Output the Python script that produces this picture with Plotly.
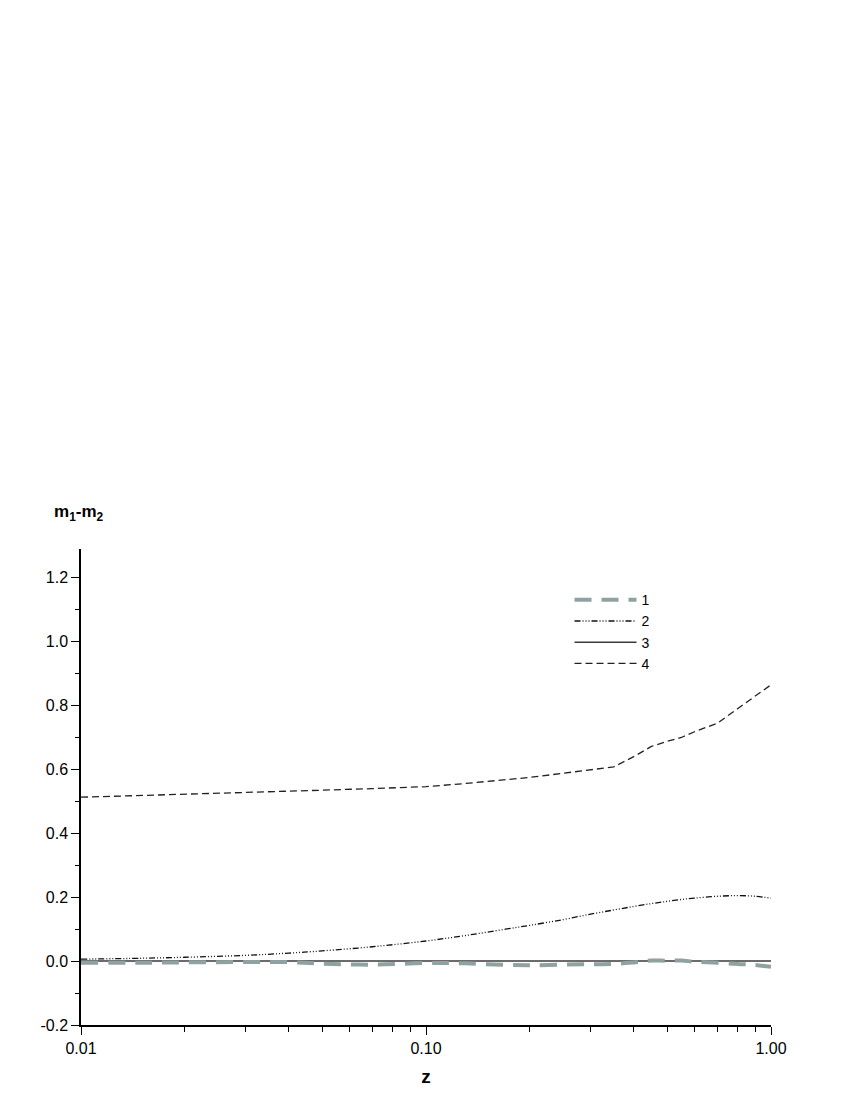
import plotly.graph_objects as go

# redshift grid (log axis)
z = [0.01, 0.015, 0.02, 0.03, 0.04, 0.05, 0.07, 0.1, 0.13, 0.17, 0.2, 0.25,
     0.3, 0.35, 0.4, 0.45, 0.5, 0.55, 0.6, 0.7, 0.8, 0.9, 1.0]

# curve 1: grey thick dashed, close to zero
m1 = [-0.005, -0.005, -0.004, -0.003, -0.003, -0.008, -0.011, -0.006, -0.007,
      -0.012, -0.013, -0.011, -0.010, -0.009, -0.004, 0.002, 0.001, 0.002,
      -0.002, -0.005, -0.009, -0.012, -0.018]

# curve 2: dash-dot-dot
m2 = [0.006, 0.009, 0.012, 0.018, 0.025, 0.032, 0.045, 0.063, 0.080, 0.100,
      0.112, 0.130, 0.147, 0.160, 0.171, 0.180, 0.187, 0.193, 0.197, 0.203,
      0.205, 0.203, 0.197]

# curve 3: solid reference line
m3 = [0.0] * len(z)

# curve 4: dashed
m4 = [0.513, 0.518, 0.522, 0.528, 0.532, 0.535, 0.540, 0.546, 0.556, 0.568,
      0.575, 0.588, 0.598, 0.608, 0.640, 0.672, 0.688, 0.700, 0.718, 0.745,
      0.790, 0.830, 0.865]

names = ['1', '2', '3', '4']

fig = go.Figure()
fig.add_trace(go.Scatter(x=z, y=m3, name=names[2], mode='lines',
                         line=dict(color='#3a3a3a', width=1.5, dash='solid'),
                         showlegend=False))
fig.add_trace(go.Scatter(x=z, y=m1, name=names[0], mode='lines',
                         line=dict(color='#8fa1a1', width=4, dash='17px,10px'),
                         line_shape='spline'))
fig.add_trace(go.Scatter(x=z, y=m2, name=names[1], mode='lines',
                         line=dict(color='#111111', width=1.3,
                                   dash='6px,2px,1px,2px,1px,2px,1px,2px'),
                         line_shape='spline'))
# legend entry for 3 in its proper order
fig.add_trace(go.Scatter(x=[None], y=[None], name=names[2], mode='lines',
                         line=dict(color='#3a3a3a', width=1.5)))
fig.add_trace(go.Scatter(x=z, y=m4, name=names[3], mode='lines',
                         line=dict(color='#222222', width=1.3, dash='7px,4px')))

# page body adds an 8px margin, so the figure is drawn 8px smaller
fig.update_layout(
    width=855, height=1109,
    margin=dict(l=73, r=92, t=541, b=92),
    paper_bgcolor='white', plot_bgcolor='white',
    font=dict(family='Liberation Sans, Arial, sans-serif', size=16, color='black'),
    legend=dict(x=0.708, y=0.926, xanchor='left', yanchor='top',
                bgcolor='rgba(0,0,0,0)', font=dict(size=14),
                itemwidth=62, tracegroupgap=0),
    showlegend=True,
)

fig.update_xaxes(
    type='log', range=[-2, 0],
    tickvals=[0.01, 0.1, 1.0], ticktext=['0.01', '0.10', '1.00'],
    showline=True, linecolor='black', linewidth=1.5,
    ticks='outside', ticklen=8, tickcolor='black', tickwidth=1.2,
    showgrid=False, zeroline=False,
    minor=dict(ticks='outside', ticklen=5, tickcolor='black', tickwidth=1,
               tickvals=[0.02, 0.03, 0.04, 0.05, 0.06, 0.07, 0.08, 0.09,
                         0.2, 0.3, 0.4, 0.5, 0.6, 0.7, 0.8, 0.9]),
    title=dict(text='<b>z</b>', font=dict(size=19), standoff=14),
)

fig.update_yaxes(
    range=[-0.2, 1.29],
    tickvals=[-0.2, 0.0, 0.2, 0.4, 0.6, 0.8, 1.0, 1.2],
    ticktext=['-0.2', '0.0', '0.2', '0.4', '0.6', '0.8', '1.0', '1.2'],
    showline=True, linecolor='black', linewidth=1.5,
    ticks='outside', ticklen=8, tickcolor='black', tickwidth=1.2,
    showgrid=False, zeroline=False,
    minor=dict(ticks='outside', ticklen=4, tickcolor='black', tickwidth=1,
               tickvals=[-0.1, 0.1, 0.3, 0.5, 0.7, 0.9, 1.1]),
)

fig.add_annotation(text='<b>m<sub>1</sub>-m<sub>2</sub></b>', xref='paper', yref='paper',
                   x=-0.042, y=1.075, xanchor='left', yanchor='middle',
                   showarrow=False, font=dict(size=17))

fig.write_html('out.html')
